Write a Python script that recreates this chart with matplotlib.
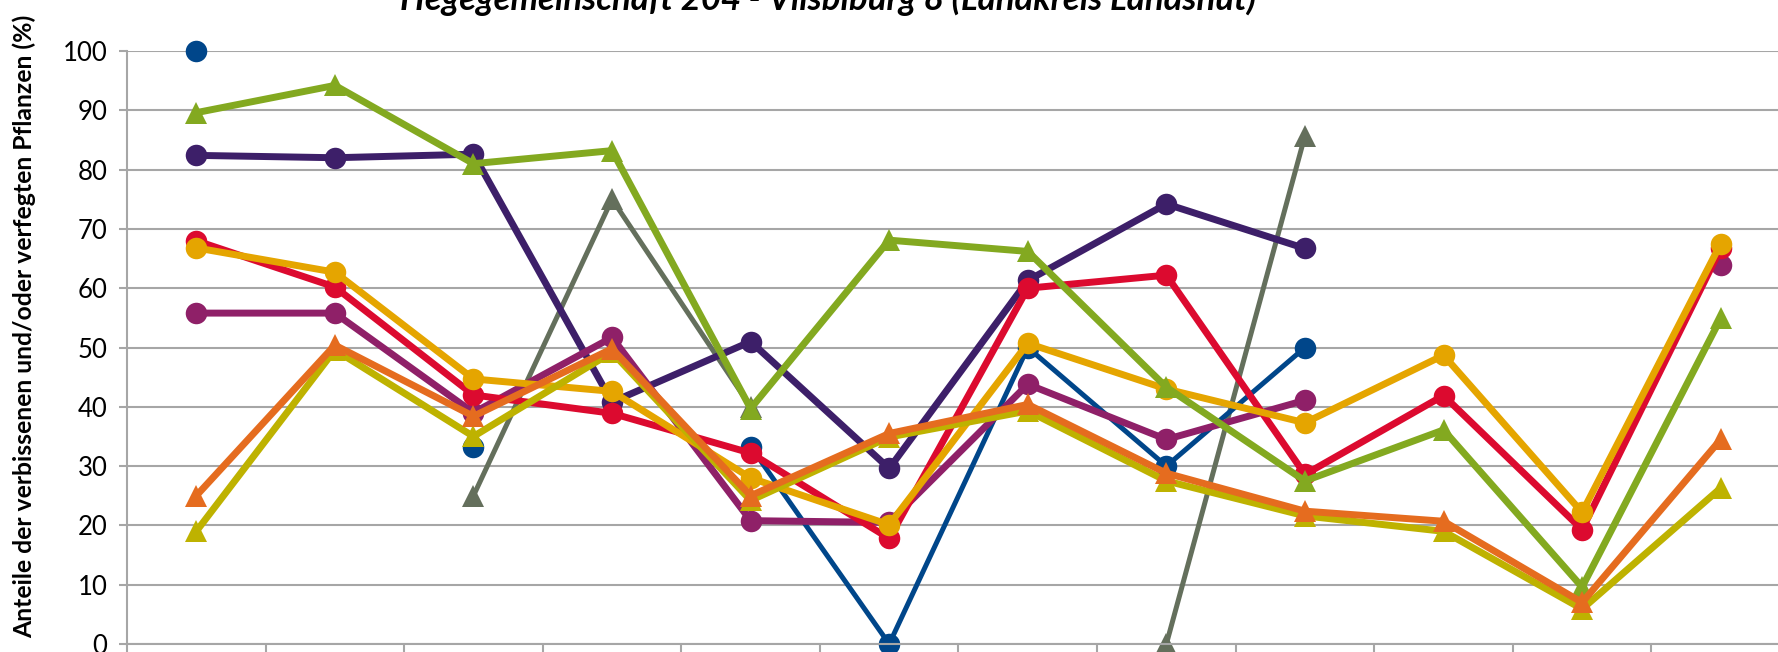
import numpy as np
import matplotlib
matplotlib.use("Agg")
import matplotlib.pyplot as plt

plt.rcParams['font.family'] = ['Lato', 'DejaVu Sans']

nan = np.nan
# 12 survey categories (x-axis labels are cut off in the reference)
categories = ["1991", "1994", "1997", "2000", "2003", "2006",
              "2009", "2012", "2015", "2018", "2021", "2024"]

title = "Hegegemeinschaft 204 - Vilsbiburg 8 (Landkreis Landshut)"
ylabel = "Anteile der verbissenen und/oder verfegten Pflanzen (%)"
yticks = [0, 10, 20, 30, 40, 50, 60, 70, 80, 90, 100]

s_grey    = [nan, nan, 25.0, 75.0, 40.0, nan, nan, 0.0, 85.7, nan, nan, nan]
s_blue    = [100.0, nan, 33.3, nan, 33.3, 0.0, 50.0, 30.0, 50.0, nan, nan, nan]
s_dpurple = [82.4, 82.0, 82.6, 40.8, 51.0, 29.6, 61.3, 74.2, 66.7, nan, nan, nan]
s_magenta = [55.8, 55.8, 39.0, 51.7, 20.8, 20.5, 43.8, 34.5, 41.1, nan, nan, 63.9]
s_red     = [68.0, 60.2, 42.0, 38.9, 32.2, 17.8, 60.0, 62.2, 28.6, 41.9, 19.3, 66.7]
s_gold    = [66.8, 62.7, 44.7, 42.6, 28.0, 20.1, 50.7, 43.0, 37.3, 48.7, 22.2, 67.5]
s_green   = [89.6, 94.2, 81.0, 83.2, 39.7, 68.1, 66.2, 43.3, 27.5, 36.1, 9.6, 54.9]
s_olive   = [19.0, 49.6, 35.0, 49.2, 24.2, 34.9, 39.3, 27.5, 21.6, 19.0, 5.9, 26.3]
s_orange  = [25.0, 50.4, 38.4, 49.8, 25.0, 35.5, 40.4, 28.8, 22.4, 20.7, 7.0, 34.5]

series = [
    (s_grey,    "#646F5C", "^", 3.6),
    (s_blue,    "#00468A", "o", 3.6),
    (s_dpurple, "#3D1F69", "o", 5.0),
    (s_magenta, "#8F2068", "o", 5.0),
    (s_red,     "#DC0A2F", "o", 5.0),
    (s_gold,    "#E5A500", "o", 5.0),
    (s_green,   "#83A920", "^", 5.0),
    (s_olive,   "#BEB200", "^", 5.0),
    (s_orange,  "#E56C1F", "^", 5.0),
]

W, H = 1778, 652
fig = plt.figure(figsize=(W / 100, H / 100), dpi=100)
left_px, right_px = 127, 1790
top_px, bottom_px = 51, 644
ax = fig.add_axes([left_px / W, (H - bottom_px) / H,
                   (right_px - left_px) / W, (bottom_px - top_px) / H])

x = np.arange(len(categories))
for vals, col, mk, lw in series:
    ms = 15.5 if mk == "o" else 16.5
    ax.plot(x, vals, color=col, lw=lw, marker=mk, ms=ms,
            markeredgewidth=0, solid_joinstyle='round', clip_on=False)

ax.set_xlim(-0.5, len(categories) - 0.5)
ax.set_ylim(0, 100)
ax.set_yticks(yticks)
ax.set_yticklabels([str(v) for v in yticks], fontsize=18.5)
ax.set_xticks(np.arange(len(categories) + 1) - 0.5)
ax.set_xticklabels([])
ax.grid(axis='y', color='#A6A6A6', lw=1.5)
ax.set_axisbelow(True)
for sp in ['top', 'right']:
    ax.spines[sp].set_visible(False)
for sp in ['left', 'bottom']:
    ax.spines[sp].set_color('#A6A6A6')
    ax.spines[sp].set_linewidth(1.5)
ax.tick_params(axis='both', direction='out', length=6, width=1.5,
               color='#A6A6A6')
ax.tick_params(axis='y', pad=8)

fig.text(828 / W, (H - 10) / H, title, ha='center', va='baseline',
         fontsize=25, fontweight='bold', fontstyle='italic')
fig.text(24 / W, 0.5, ylabel, rotation=90, ha='center', va='center',
         fontsize=17.8, fontweight='bold')

fig.savefig("out.png", dpi=100)
